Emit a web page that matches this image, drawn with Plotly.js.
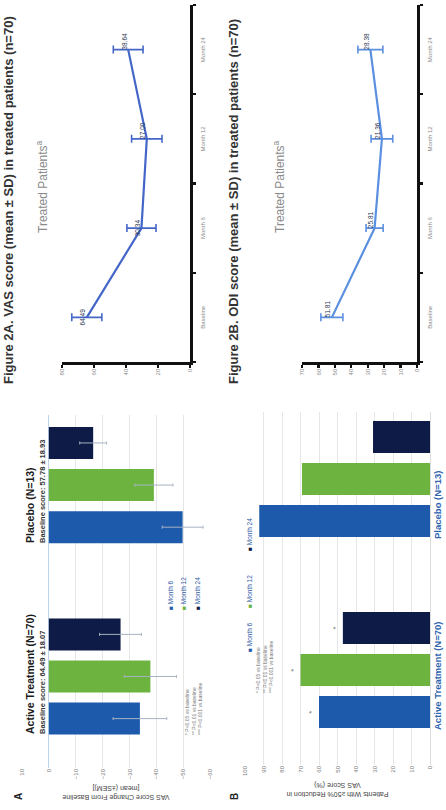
<!DOCTYPE html>
<html>
<head>
<meta charset="utf-8">
<script src="https://cdn.plot.ly/plotly-3.0.1.min.js"></script>
<style>
  html, body { margin: 0; padding: 0; background: #ffffff; overflow: hidden; }
  #stage { position: absolute; left: 0; top: 0; width: 446px; height: 810px; overflow: hidden; }
  #chart { position: absolute; left: 0; top: 0; width: 810px; height: 446px;
           transform-origin: 0 0; transform: translate(0px, 810px) rotate(-90deg); }
</style>
</head>
<body>
<div id="stage"><div id="chart"></div></div>
<script>
// ---------- data ----------
const groups = ["Active Treatment (N=70)", "Placebo (N=13)"];
const baselineScores = ["Baseline score: 64.49 ± 18.07", "Baseline score: 57.78 ± 18.93"];
const months = ["Month 6", "Month 12", "Month 24"];

// Panel A: VAS change from baseline, mean (±SEM)
const vasChangeM6  = [-33.9, -49.8];
const vasChangeM12 = [-37.8, -39.1];
const vasChangeM24 = [-26.7, -16.5];
const vasSemM6  = [10.0, 7.6];
const vasSemM12 = [9.7, 7.1];
const vasSemM24 = [7.8, 5.0];

// Panel B: % patients with >=50% reduction in VAS
const respM6  = [60.0, 92.3];
const respM12 = [70.0, 69.2];
const respM24 = [47.1, 30.8];
const respSig = ["*"];   // marks on the active-treatment bars only

const sigNotes = ["* P<0.05 vs baseline", "** P<0.01 vs baseline", "*** P<0.001 vs baseline"];

// Figure 2A / 2B line charts
const visits = ["Baseline", "Month 6", "Month 12", "Month 24"];
const vasMean = [64.49, 30.34, 27.00, 38.64];
const vasSd   = [9.4, 9.1, 9.5, 9.3];
const odiMean = [51.81, 25.81, 21.36, 28.38];
const odiSd   = [6.7, 5.2, 6.6, 7.6];

const vasTicks = [0, 20, 40, 60, 80];
const odiTicks = [0, 10, 20, 30, 40, 50, 60, 70];
const aTicks = [10, 0, -10, -20, -30, -40, -50, -60];
const bTicks = [0, 10, 20, 30, 40, 50, 60, 70, 80, 90, 100];

// ---------- style ----------
const FONT = "Liberation Sans, Arial, sans-serif";
const C6 = "#1d5aab", C12 = "#6cb33f", C24 = "#0d1b46";
const colors = [C6, C12, C24];
const errColor = "#a7b3c2";
const legendText = "#2e5aa6";

const W = 810, H = 446;
const px = X => X / W;
const py = Y => 1 - Y / H;

const traces = [];
const aVals = [vasChangeM6, vasChangeM12, vasChangeM24];
const aErrs = [vasSemM6, vasSemM12, vasSemM24];
months.forEach((m, i) => {
  traces.push({
    type: "bar", name: m, x: groups, y: aVals[i],
    xaxis: "x", yaxis: "y", showlegend: false,
    marker: { color: colors[i] },
    error_y: { type: "data", array: aErrs[i], color: errColor, thickness: 1, width: 1.5 },
    hoverinfo: "skip"
  });
});
const bVals = [respM6, respM12, respM24];
months.forEach((m, i) => {
  traces.push({
    type: "bar", name: m, x: groups, y: bVals[i],
    xaxis: "x2", yaxis: "y2", showlegend: false,
    marker: { color: colors[i] },
    text: respSig, textposition: "outside", cliponaxis: false,
    textfont: { family: FONT, size: 8, color: "#777" },
    hoverinfo: "skip"
  });
});
traces.push({
  type: "scatter", mode: "lines+text", x: visits, y: vasMean,
  xaxis: "x3", yaxis: "y3", showlegend: false,
  line: { color: "#4466c8", width: 2.2 },
  error_y: { type: "data", array: vasSd, color: "#4466c8", thickness: 1.6, width: 4 },
  text: vasMean.map(v => v.toFixed(2)),
  textposition: ["top center", "top center", "top right", "top right"],
  textfont: { family: FONT, size: 6.5, color: "#2b3550" },
  cliponaxis: false, hoverinfo: "skip"
});
traces.push({
  type: "scatter", mode: "lines+text", x: visits, y: odiMean,
  xaxis: "x4", yaxis: "y4", showlegend: false,
  line: { color: "#5b8fe0", width: 2.2 },
  error_y: { type: "data", array: odiSd, color: "#5b8fe0", thickness: 1.6, width: 4 },
  text: odiMean.map(v => v.toFixed(2)),
  textposition: "top right",
  textfont: { family: FONT, size: 6.5, color: "#2b3550" },
  cliponaxis: false, hoverinfo: "skip"
});

const barYAxisCommon = {
  showgrid: true, gridcolor: "#e6e6e6", gridwidth: 1,
  ticks: "", showline: false,
  tickfont: { family: FONT, size: 6, color: "#7a7a7a" }
};
const lineAxisCommon = {
  showline: true, linecolor: "#111", linewidth: 2.5,
  ticks: "outside", ticklen: 3, tickwidth: 2.2, tickcolor: "#111",
  showgrid: false, zeroline: false,
  tickfont: { family: FONT, size: 6, color: "#8a8a8a" }
};

const layout = {
  width: W, height: H,
  margin: { l: 0, r: 0, t: 0, b: 0 },
  paper_bgcolor: "#ffffff", plot_bgcolor: "#ffffff",
  font: { family: FONT },
  showlegend: false,
  barmode: "group", bargap: 0.34, bargroupgap: 0.24,
  // Panel A
  xaxis: { domain: [px(42), px(395)], type: "category", range: [-0.478, 1.366],
           showticklabels: false, ticks: "", showline: false, showgrid: false, zeroline: false },
  yaxis: Object.assign({}, barYAxisCommon, {
    domain: [py(210), py(22)], range: [-60, 10], tickvals: aTicks,
    zeroline: true, zerolinecolor: "#bcd3ea", zerolinewidth: 1.2,
    title: { text: "VAS Score Change From Baseline<br>[mean (±SEM)]",
             font: { family: FONT, size: 7, color: "#444" }, standoff: 5 }
  }),
  // Panel B
  xaxis2: { domain: [px(45), px(398)], type: "category", range: [-0.497, 1.351],
            showticklabels: false, ticks: "", showline: true, linecolor: "#dddddd",
            showgrid: false, zeroline: false, anchor: "y2" },
  yaxis2: Object.assign({}, barYAxisCommon, {
    domain: [py(430), py(245)], range: [0, 100], tickvals: bTicks, anchor: "x2",
    zeroline: false,
    title: { text: "Patients With ≥50% Reduction in<br>VAS Score (%)",
             font: { family: FONT, size: 7, color: "#444" }, standoff: 5 }
  }),
  // Figure 2A
  xaxis3: Object.assign({}, lineAxisCommon, {
    domain: [px(448), px(805)], type: "category", range: [-0.5, 3.5],
    tickson: "boundaries", anchor: "y3", ticklabelstandoff: 5
  }),
  yaxis3: Object.assign({}, lineAxisCommon, {
    domain: [py(190), py(62)], range: [0, 80], tickvals: vasTicks, anchor: "x3"
  }),
  // Figure 2B
  xaxis4: Object.assign({}, lineAxisCommon, {
    domain: [px(448), px(805)], type: "category", range: [-0.5, 3.5],
    tickson: "boundaries", anchor: "y4", ticklabelstandoff: 5
  }),
  yaxis4: Object.assign({}, lineAxisCommon, {
    domain: [py(417), py(302)], range: [0, 70], tickvals: odiTicks, anchor: "x4"
  }),
  annotations: []
};

const ann = layout.annotations;
// Panel letters
ann.push({ xref: "paper", yref: "paper", x: px(8), y: py(18), xanchor: "left", yanchor: "middle",
  text: "<b>A</b>", showarrow: false, font: { family: FONT, size: 10, color: "#222" } });
ann.push({ xref: "paper", yref: "paper", x: px(8), y: py(235), xanchor: "left", yanchor: "middle",
  text: "<b>B</b>", showarrow: false, font: { family: FONT, size: 10, color: "#222" } });

// Legends (compact, as in the original figure)
const legendA = [[198, 170], [198, 183.5], [198, 197]];
const legendB = [[156, 250], [200, 250], [257, 250]];
months.forEach((m, i) => {
  const t = "<span style='color:" + colors[i] + "'>■</span> " + m;
  ann.push({ xref: "paper", yref: "paper", x: px(legendA[i][0]), y: py(legendA[i][1]),
    xanchor: "left", yanchor: "middle", text: t, showarrow: false,
    font: { family: FONT, size: 6.5, color: legendText } });
  ann.push({ xref: "paper", yref: "paper", x: px(legendB[i][0]), y: py(legendB[i][1]),
    xanchor: "left", yanchor: "middle", text: t, showarrow: false,
    font: { family: FONT, size: 6.5, color: legendText } });
});

// Panel A group headers
groups.forEach((g, i) => {
  ann.push({ xref: "x", yref: "paper", x: g, xshift: -60, y: py(30), xanchor: "left", yanchor: "middle",
    text: "<b>" + g + "</b>", showarrow: false, font: { family: FONT, size: 10.5, color: "#1a1a1a" } });
  ann.push({ xref: "x", yref: "paper", x: g, xshift: -60, y: py(42), xanchor: "left", yanchor: "middle",
    text: "<b>" + baselineScores[i] + "</b>", showarrow: false, font: { family: FONT, size: 7.5, color: "#333" } });
});
// Panel B group labels (category labels below axis)
groups.forEach((g) => {
  ann.push({ xref: "x2", yref: "paper", x: g, xshift: -62, y: py(437.5), xanchor: "left", yanchor: "middle",
    text: "<b>" + g + "</b>", showarrow: false, font: { family: FONT, size: 9.5, color: "#2e64b0" } });
});
// Significance notes
ann.push({ xref: "paper", yref: "paper", x: px(73), y: py(182), xanchor: "left", yanchor: "top", align: "left",
  text: sigNotes.join("<br>"), showarrow: false, font: { family: FONT, size: 5, color: "#777" } });
ann.push({ xref: "paper", yref: "paper", x: px(115), y: py(253), xanchor: "left", yanchor: "top", align: "left",
  text: sigNotes.join("<br>"), showarrow: false, font: { family: FONT, size: 5, color: "#777" } });

// Figure titles
ann.push({ xref: "paper", yref: "paper", x: px(424), y: py(8), xanchor: "left", yanchor: "middle",
  text: "<b>Figure 2A. VAS score (mean ± SD) in treated patients (n=70)</b>", showarrow: false,
  font: { family: FONT, size: 13, color: "#333" } });
ann.push({ xref: "paper", yref: "paper", x: px(424), y: py(234), xanchor: "left", yanchor: "middle",
  text: "<b>Figure 2B. ODI score (mean ± SD) in treated patients (n=70)</b>", showarrow: false,
  font: { family: FONT, size: 13, color: "#333" } });
// Treated patients labels
ann.push({ xref: "paper", yref: "paper", x: px(623), y: py(42), xanchor: "center", yanchor: "middle",
  text: "Treated Patients<sup>a</sup>", showarrow: false, font: { family: FONT, size: 12, color: "#8a8a8a" } });
ann.push({ xref: "paper", yref: "paper", x: px(623), y: py(279), xanchor: "center", yanchor: "middle",
  text: "Treated Patients<sup>a</sup>", showarrow: false, font: { family: FONT, size: 12, color: "#8a8a8a" } });

Plotly.newPlot("chart", traces, layout, { staticPlot: true, displayModeBar: false });
</script>
</body>
</html>
